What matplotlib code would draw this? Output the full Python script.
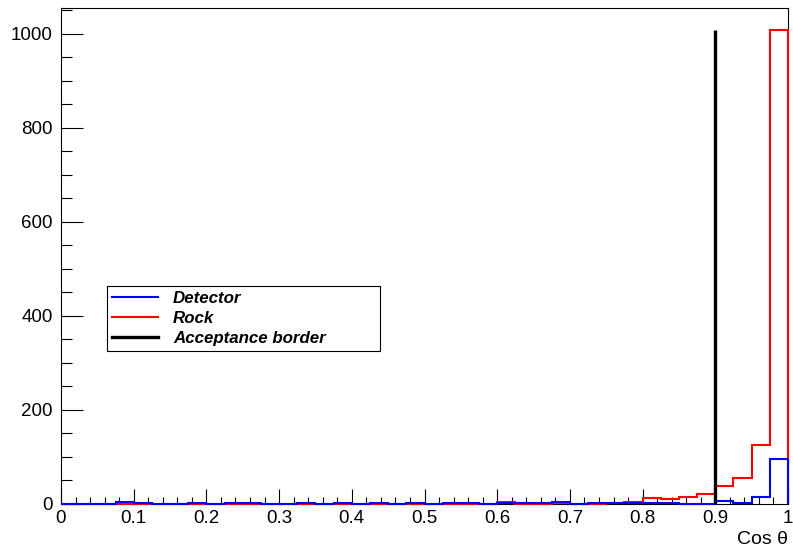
import numpy as np
import matplotlib
matplotlib.use("Agg")
import matplotlib.pyplot as plt
from matplotlib.ticker import MultipleLocator
from matplotlib.lines import Line2D

# cos(theta) binning: 40 bins from 0 to 1
bin_edges = np.linspace(0.0, 1.0, 41)

detector_counts = [1, 1, 0, 5, 2, 0, 0, 2, 1, 3,
                   2, 1, 1, 2, 1, 3, 1, 2, 1, 2,
                   1, 3, 2, 1, 2, 3, 2, 4, 1, 2,
                   3, 2, 3, 2, 1, 1, 6, 3, 15, 96]

rock_counts = [0, 0, 0, 1, 0, 0, 0, 0, 1, 0,
               1, 0, 0, 0, 0, 0, 1, 0, 0, 0,
               0, 0, 0, 0, 4, 1, 1, 2, 1, 1,
               2, 4, 13, 10, 15, 21, 38, 55, 126, 1008]

acceptance_cut = 0.9
acceptance_top = max(rock_counts)

plt.rcParams["font.family"] = ["Liberation Sans", "DejaVu Sans"]

fig = plt.figure(figsize=(7.93, 5.54), dpi=100)
ax = fig.add_axes([61 / 793, 50 / 554, 727 / 793, 496 / 554])

ax.stairs(rock_counts, bin_edges, color="#ff0000", linewidth=1.5, baseline=0,
          zorder=3, clip_on=False)
ax.stairs(detector_counts, bin_edges, color="#0000ff", linewidth=1.5, baseline=0,
          zorder=3.1, clip_on=False)
ax.plot([acceptance_cut, acceptance_cut], [0, acceptance_top],
        color="black", linewidth=2.4, solid_capstyle="butt", zorder=3.2)

ax.set_xlim(0, 1)
ax.set_ylim(0, 1055)

ax.xaxis.set_major_locator(MultipleLocator(0.1))
ax.xaxis.set_minor_locator(MultipleLocator(0.02))
ax.yaxis.set_major_locator(MultipleLocator(200))
ax.yaxis.set_minor_locator(MultipleLocator(50))
ax.xaxis.set_major_formatter(plt.FuncFormatter(lambda v, p: f"{v:g}"))
ax.yaxis.set_major_formatter(plt.FuncFormatter(lambda v, p: f"{v:g}"))

ax.tick_params(axis="x", which="major", direction="in", length=10.7, width=0.8,
               labelsize=13.5, pad=4, top=False)
ax.tick_params(axis="x", which="minor", direction="in", length=5.4, width=0.8, top=False)
ax.tick_params(axis="y", which="major", direction="in", length=15.8, width=0.8,
               labelsize=13.5, pad=6, right=False)
ax.tick_params(axis="y", which="minor", direction="in", length=7.9, width=0.8, right=False)
for s in ax.spines.values():
    s.set_linewidth(0.8)

ax.set_xlabel("Cos θ", loc="right", fontsize=14, labelpad=3)

handles = [Line2D([], [], color="#0000ff", linewidth=1.5),
           Line2D([], [], color="#ff0000", linewidth=1.5),
           Line2D([], [], color="black", linewidth=2.4)]
labels = ["Detector", "Rock", "Acceptance border"]
leg = ax.legend(handles, labels, loc="upper left", mode="expand",
                bbox_to_anchor=(46 / 727, 155 / 496, 273 / 727, 63 / 496),
                borderaxespad=0,
                prop={"family": "Liberation Sans", "style": "italic",
                      "weight": "bold", "size": 12.2},
                frameon=True, fancybox=False, edgecolor="black",
                framealpha=1, handlelength=2.7, handletextpad=0.9,
                labelspacing=0.3, borderpad=0.3)
leg.get_frame().set_linewidth(0.8)

fig.savefig("out.png", dpi=100)
